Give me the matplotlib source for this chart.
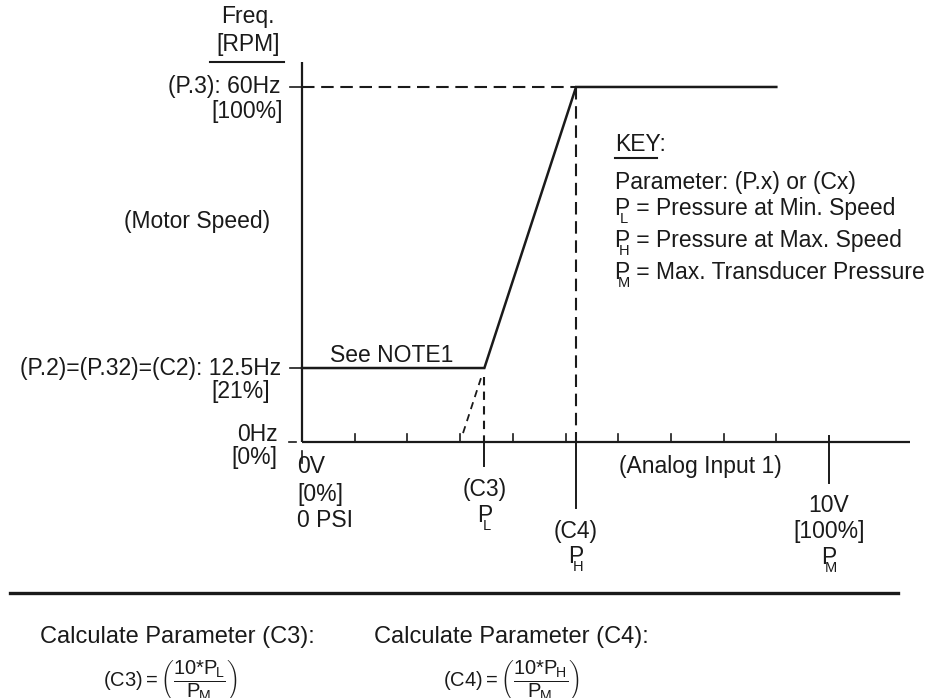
import matplotlib
matplotlib.use("Agg")
import matplotlib.pyplot as plt
import numpy as np

plt.rcParams['font.family'] = ['Liberation Sans', 'DejaVu Sans']
plt.rcParams['mathtext.fontset'] = 'custom'
plt.rcParams['mathtext.rm'] = 'Liberation Sans'
plt.rcParams['mathtext.it'] = 'Liberation Sans'
plt.rcParams['mathtext.bf'] = 'Liberation Sans:bold'

# ---- data (volts on x, Hz on y) ----
volt_ticks = [1, 2, 3, 4, 5, 6, 7, 8, 9]
v_min, v_max = 0, 10
f_zero, f_min, f_max = 0, 12.5, 60
c3_volt = 3.46
c4_volt = 5.2
ramp_zero_volt = 3.0
end_volt = 9.0
curve_x = [0, c3_volt, c4_volt, end_volt]
curve_y = [f_min, f_min, f_max, f_max]

INK = '#1a1a1a'
FS = 16.5
SUB = 10.5

fig = plt.figure(figsize=(9.31, 6.98), dpi=100)
ax = fig.add_axes([0, 0, 1, 1])
ax.set_xlim(-5.731, 11.935)
ax.set_ylim(-43.27, 74.70)
ax.axis('off')

lw = 1.6
# axes lines
ax.plot([0, 11.54], [0, 0], color=INK, lw=lw, solid_capstyle='butt')
ax.plot([0, 0], [0, 64.2], color=INK, lw=lw, solid_capstyle='butt')
ax.plot([0, 0], [-1.5, -3.6], color=INK, lw=1.2)
# y ticks
for f in (f_max, f_min):
    ax.plot([-0.23, 0], [f, f], color=INK, lw=1.2)
ax.plot([-0.25, -0.12], [0, 0], color=INK, lw=1.2)
# x minor ticks
for v in volt_ticks:
    ax.plot([v, v], [0, 1.3], color=INK, lw=1.2)
# 10V tick
ax.plot([v_max, v_max], [1.0, -7.0], color=INK, lw=1.4)
# C3 / C4 ticks
ax.plot([c3_volt, c3_volt], [0, -4.1], color=INK, lw=1.4)
ax.plot([c4_volt, c4_volt], [0, -11.2], color=INK, lw=1.4)

# curve
ax.plot(curve_x, curve_y, color=INK, lw=1.8, solid_joinstyle='miter')
# dashed guides
dash = (6, 3.2)
ax.plot([0, c4_volt], [f_max, f_max], color=INK, lw=1.5, dashes=dash)
ax.plot([c4_volt, c4_volt], [f_max, 0], color=INK, lw=1.5, dashes=dash)
ax.plot([c3_volt, c3_volt], [f_min - 1.5, 0], color=INK, lw=1.5, dashes=(4, 3))
# extrapolated ramp (dashed) down to 0 Hz
ext_f = np.array([1.5, f_min - 1.5])
ext_v = np.interp(ext_f, [f_zero, f_max], [ramp_zero_volt, c4_volt])
ax.plot(ext_v, ext_f, color=INK, lw=1.3, dashes=(4, 3))

t = dict(color=INK, fontsize=FS)
# y labels
ax.text(-1.02, 71.9, 'Freq.', ha='center', va='center', **t)
ax.text(-1.02, 67.2, '[RPM]', ha='center', va='center', **t)
ax.plot([-1.75, -0.34], [64.2, 64.2], color=INK, lw=1.5)
ax.text(-0.40, f_max, '(P.3): 60Hz', ha='right', va='center', **t)
ax.text(-0.36, 55.8, '[100%]', ha='right', va='center', **t)
ax.text(-2.0, 37.2, '(Motor Speed)', ha='center', va='center', **t)
ax.text(-0.40, f_min, '(P.2)=(P.32)=(C2): 12.5Hz', ha='right', va='center', **t)
ax.text(-0.61, 8.45, '[21%]', ha='right', va='center', **t)
ax.text(-0.47, 1.2, '0Hz', ha='right', va='center', **t)
ax.text(-0.47, -2.7, '[0%]', ha='right', va='center', **t)
ax.text(0.53, 14.7, 'See NOTE1', ha='left', va='center', **t)


def sub_letter(x, y, letter, dx):
    """Small subscript letter placed under the right part of a 'P'."""
    ax.annotate(letter, xy=(x, y), xytext=(dx, -7.5), textcoords='offset points',
                ha='center', va='center', color=INK, fontsize=SUB)


# key
kx = 5.94
ax.text(kx, 50.2, 'KEY:', ha='left', va='center', **t)
ax.plot([kx, 6.74], [48.0, 48.0], color=INK, lw=1.5)
ax.text(kx, 43.9, 'Parameter: (P.x) or (Cx)', ha='left', va='center', **t)
key_rows = [(39.5, 'L', 'P = Pressure at Min. Speed'),
            (34.1, 'H', 'P = Pressure at Max. Speed'),
            (28.7, 'M', 'P = Max. Transducer Pressure')]
for ky, letter, label in key_rows:
    ax.text(kx, ky, label, ha='left', va='center', **t)
    sub_letter(kx, ky, letter, 6.5)

# x labels
ax.text(-0.09, -4.2, '0V', ha='left', va='center', **t)
ax.text(-0.09, -8.8, '[0%]', ha='left', va='center', **t)
ax.text(-0.09, -13.2, '0 PSI', ha='left', va='center', **t)
ax.text(c3_volt, -8.1, '(C3)', ha='center', va='center', **t)
ax.text(c3_volt, -12.5, 'P', ha='center', va='center', **t)
sub_letter(c3_volt, -12.5, 'L', 1.5)
ax.text(c4_volt, -15.2, '(C4)', ha='center', va='center', **t)
ax.text(c4_volt, -19.4, 'P', ha='center', va='center', **t)
sub_letter(c4_volt, -19.4, 'H', 1.5)
ax.text(7.55, -4.06, '(Analog Input 1)', ha='center', va='center', **t)
ax.text(v_max, -10.8, '10V', ha='center', va='center', **t)
ax.text(v_max, -15.2, '[100%]', ha='center', va='center', **t)
ax.text(v_max, -19.6, 'P', ha='center', va='center', **t)
sub_letter(v_max, -19.6, 'M', 1.5)

# separator and formulas
ax.plot([-5.54, 11.31], [-25.5, -25.5], color=INK, lw=2.4)
ax.text(-4.97, -33.0, 'Calculate Parameter (C3):', ha='left', va='center', color=INK, fontsize=17)
ax.text(1.37, -33.0, 'Calculate Parameter (C4):', ha='left', va='center', color=INK, fontsize=17)
ax.text(-3.78, -40.3, r'$\mathregular{(C3) =} \left(\dfrac{\mathregular{10{*}P_{\!L}}}{\mathregular{P_{\!M}}}\right)$',
        ha='left', va='center', color=INK, fontsize=14.5)
ax.text(2.68, -40.3, r'$\mathregular{(C4) =} \left(\dfrac{\mathregular{10{*}P_{\!H}}}{\mathregular{P_{\!M}}}\right)$',
        ha='left', va='center', color=INK, fontsize=14.5)

fig.savefig('out.png', dpi=100, facecolor='white')
